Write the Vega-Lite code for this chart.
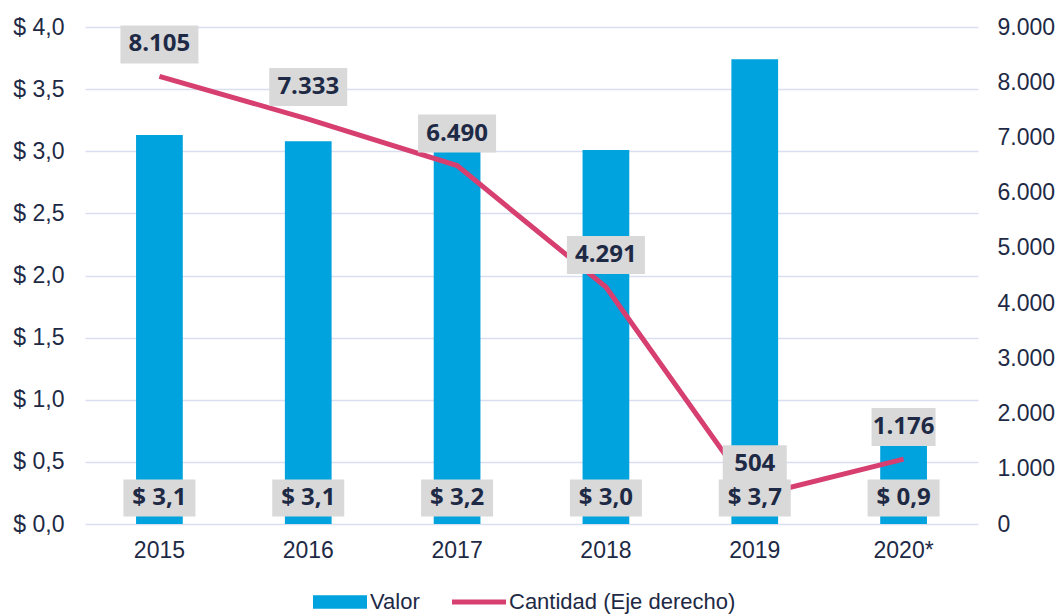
{
  "$schema": "https://vega.github.io/schema/vega-lite/v6.json",
  "width": 893,
  "height": 497,
  "autosize": {"type": "none"},
  "padding": {"left": 85, "top": 27, "right": 85, "bottom": 90},
  "background": "white",
  "config": {
    "locale": {"number": {"decimal": ",", "thousands": ".", "grouping": [3], "currency": ["$ ", ""]}},
    "view": {"stroke": null},
    "font": "Liberation Sans",
    "axis": {"labelFont": "Liberation Sans", "labelFontSize": 23, "labelColor": "#1E2A45", "domain": false, "ticks": false, "title": null},
    "legend": {
      "orient": "none",
      "legendX": 228,
      "legendY": 548,
      "direction": "horizontal",
      "title": null,
      "labelFont": "Liberation Sans",
      "labelFontSize": 22,
      "labelColor": "#1E2A45",
      "labelLimit": 500,
      "symbolSize": 2916,
      "labelOffset": 3,
      "columnPadding": 32,
      "padding": 0
    }
  },
  "data": {
    "values": [
      {"anio": "2015", "valor": 3.13, "cantidad": 8105},
      {"anio": "2016", "valor": 3.08, "cantidad": 7333},
      {"anio": "2017", "valor": 3.2, "cantidad": 6490},
      {"anio": "2018", "valor": 3.01, "cantidad": 4291},
      {"anio": "2019", "valor": 3.74, "cantidad": 504},
      {"anio": "2020*", "valor": 0.9, "cantidad": 1176}
    ]
  },
  "encoding": {
    "x": {
      "field": "anio",
      "type": "nominal",
      "sort": null,
      "scale": {"paddingInner": 0.686, "paddingOuter": 0.343},
      "axis": {"labelAngle": 0, "labelPadding": 15, "title": null}
    }
  },
  "layer": [
    {
      "mark": {"type": "bar", "color": "#00A3DD"},
      "encoding": {
        "y": {
          "field": "valor",
          "type": "quantitative",
          "scale": {"domain": [0, 4], "nice": false},
          "axis": {"orient": "left", "values": [0, 0.5, 1, 1.5, 2, 2.5, 3, 3.5, 4], "format": "$.1f", "grid": true, "gridColor": "#D9DEF0", "gridWidth": 1.5, "labelPadding": 21}
        },
        "color": {
          "datum": "Valor",
          "type": "nominal",
          "scale": {"domain": ["Valor", "Cantidad (Eje derecho)"], "range": ["#00A3DD", "#D63F70"]},
          "legend": {
            "encode": {
              "symbols": {
                "update": {
                  "shape": {"signal": "datum.value === 'Valor' ? 'M-1,-0.25L1,-0.25L1,0.25L-1,0.25Z' : 'M-1,-0.09L1,-0.09L1,0.09L-1,0.09Z'"},
                  "fill": {"signal": "datum.value === 'Valor' ? '#00A3DD' : '#D63F70'"},
                  "stroke": {"value": "transparent"},
                  "strokeWidth": {"value": 0},
                  "opacity": {"value": 1},
                  "size": {"value": 2916}
                }
              }
            }
          }
        }
      }
    },
    {
      "mark": {"type": "line", "strokeWidth": 5},
      "encoding": {
        "y": {
          "field": "cantidad",
          "type": "quantitative",
          "scale": {"domain": [0, 9000], "nice": false},
          "axis": {"orient": "right", "values": [0, 1000, 2000, 3000, 4000, 5000, 6000, 7000, 8000, 9000], "format": ",.0f", "grid": false, "labelPadding": 19}
        },
        "color": {"datum": "Cantidad (Eje derecho)", "type": "nominal"}
      }
    },
    {
      "mark": {"type": "point", "shape": "M-1,-0.514L1,-0.514L1,0.514L-1,0.514Z", "size": 5184, "filled": true, "color": "#D9D9D9", "opacity": 1, "strokeWidth": 0, "yOffset": -26},
      "encoding": {
        "y": {"datum": 0, "type": "quantitative", "scale": {"domain": [0, 4], "nice": false}, "axis": null}
      }
    },
    {
      "mark": {"type": "text", "font": "Open Sans", "fontWeight": "bold", "fontSize": 24, "color": "#1E2A45", "baseline": "middle", "yOffset": -26},
      "encoding": {
        "y": {"datum": 0, "type": "quantitative", "scale": {"domain": [0, 4], "nice": false}, "axis": null},
        "text": {"field": "valor", "type": "quantitative", "format": "$.1f"}
      }
    },
    {
      "mark": {"type": "point", "filled": true, "color": "#D9D9D9", "opacity": 1, "strokeWidth": 0, "yOffset": -32},
      "encoding": {
        "y": {"field": "cantidad", "type": "quantitative", "scale": {"domain": [0, 9000], "nice": false}, "axis": null},
        "shape": {"condition": {"test": "datum.cantidad < 2000", "value": "M-1,-0.594L1,-0.594L1,0.594L-1,0.594Z"}, "value": "M-1,-0.487L1,-0.487L1,0.487L-1,0.487Z"},
        "size": {"condition": {"test": "datum.cantidad < 2000", "value": 4096}, "value": 6084}
      }
    },
    {
      "mark": {"type": "text", "font": "Open Sans", "fontWeight": "bold", "fontSize": 24, "color": "#1E2A45", "baseline": "middle", "yOffset": -32},
      "encoding": {
        "y": {"field": "cantidad", "type": "quantitative", "scale": {"domain": [0, 9000], "nice": false}, "axis": null},
        "text": {"field": "cantidad", "type": "quantitative", "format": ",.0f"}
      }
    }
  ],
  "resolve": {"scale": {"y": "independent"}}
}
